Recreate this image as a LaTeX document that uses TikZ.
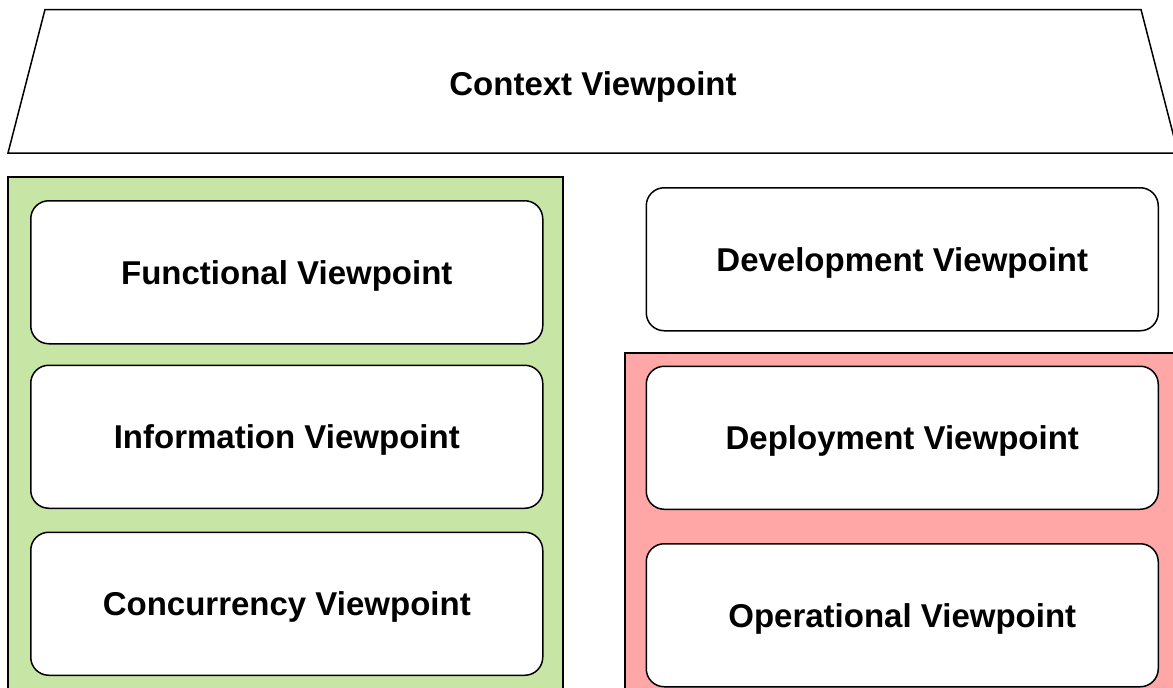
\documentclass[tikz,border=0pt]{standalone}
\usepackage{fontspec}
\setmainfont{Liberation Sans}
\definecolor{grp1}{RGB}{199,230,166}
\definecolor{grp2}{RGB}{255,166,166}
\tikzset{
  vp/.style={draw=black, line width=1.5pt, fill=white, rounded corners=18pt,
    minimum width=512pt, minimum height=143pt, inner sep=0pt, text depth=0pt,
    font=\fontsize{33}{40}\selectfont\bfseries, anchor=north west},
  grp/.style={draw=black, line width=1.5pt},
  lbl/.style={font=\fontsize{33}{40}\selectfont\bfseries, inner sep=0pt, text depth=0pt}
}
\begin{document}
\begin{tikzpicture}[x=1pt,y=-1pt]
\useasboundingbox (0,0) rectangle (1173,688);
\clip (0,0) rectangle (1173,688);
% context trapezoid
\draw[grp, fill=white] (45,9.5) -- (1141,9.5) -- (1178,153) -- (8,153) -- cycle;
\node[lbl] (ctx) at (593,84) {Context Viewpoint};
% groups
\draw[grp, fill=grp1] (8,177) rectangle (563,700);
\draw[grp, fill=grp2] (625,353) rectangle (1190,700);
% viewpoints
\node[vp] (func) at (30,200) {Functional Viewpoint};
\node[vp] (info) at (30,364.5) {Information Viewpoint};
\node[vp] (conc) at (30,531.5) {Concurrency Viewpoint};
\node[vp] (dev) at (645.5,187) {Development Viewpoint};
\node[vp] (depl) at (645.5,365.5) {Deployment Viewpoint};
\node[vp] (oper) at (645.5,543) {Operational Viewpoint};
\end{tikzpicture}
\end{document}
